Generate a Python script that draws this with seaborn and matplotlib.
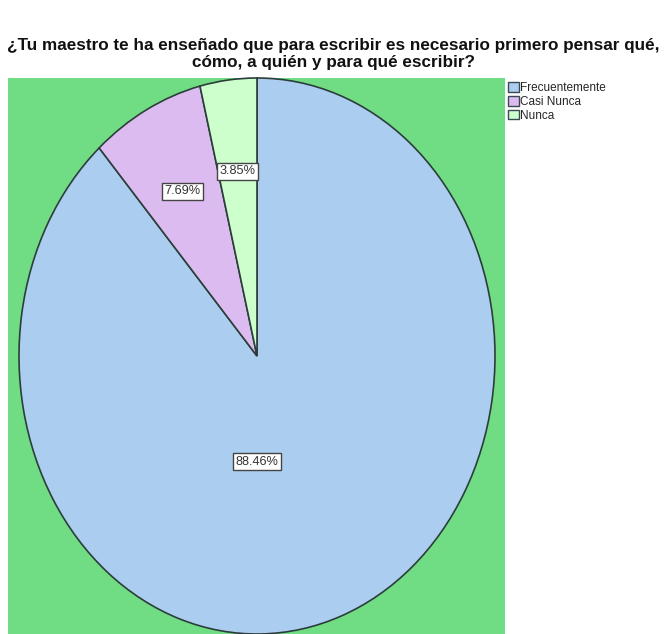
import matplotlib
matplotlib.use("Agg")
import matplotlib.pyplot as plt
import seaborn as sns
from matplotlib.patches import Patch

sns.set_style("white")
plt.rcParams["font.family"] = ["Liberation Sans", "DejaVu Sans"]

title = ("¿Tu maestro te ha enseñado que para escribir es necesario primero pensar qué,\n"
         "cómo, a quién y para qué escribir?")
categories = ["Frecuentemente", "Casi Nunca", "Nunca"]
percentages = [88.46, 7.69, 3.85]
colors = ["#ABCDEF", "#DCBCF0", "#CCFFCC"]
background = "#70DC84"
edge = "#2C3E3A"

W, H = 666, 634
fig = plt.figure(figsize=(W / 100, H / 100), dpi=100)
fig.patch.set_facecolor("white")

# plot area in pixels: x 8..505, y 78..634 (from top)
left, right, top, bottom = 8, 505, 78, 634
ax = fig.add_axes([left / W, 1 - bottom / H, (right - left) / W, (bottom - top) / H])

wedges, texts, autotexts = ax.pie(
    percentages, colors=colors, startangle=90, counterclock=False,
    autopct="%1.2f%%", pctdistance=0.67, frame=True,
    wedgeprops=dict(edgecolor=edge, linewidth=1.2),
    textprops=dict(fontsize=9.2, color="#333333"),
)
ax.set_facecolor(background)
ax.set_aspect("auto")
ax.set_xticks([])
ax.set_yticks([])

# ellipse: centre (257, 356) px, radii 238 x 278 px
cx, cy, rx, ry = 257, 356, 238, 278
ax.set_xlim(-(cx - left) / rx, (right - cx) / rx)
ax.set_ylim(-(bottom - cy) / ry, (cy - top) / ry)
for s in ax.spines.values():
    s.set_visible(False)

autotexts[0].set_position((0, -0.38))
for t in autotexts:
    t.set_bbox(dict(facecolor="white", edgecolor="#444444", linewidth=1.0,
                    boxstyle="square,pad=0.2"))

fig.text(0.5, 1 - 38 / H, title, ha="center", va="top", fontsize=12.3,
         fontweight="bold", linespacing=1.2, color="#111111")

handles = [Patch(facecolor=c, edgecolor="#3A4A55", linewidth=1.0, label=l)
           for c, l in zip(colors, categories)]
fig.legend(handles=handles, loc="upper left",
           bbox_to_anchor=(508 / W, 1 - 82 / H), frameon=False,
           fontsize=8.5, handlelength=0.9, handleheight=0.9,
           handletextpad=0.15, labelspacing=0.15, borderpad=0, borderaxespad=0)

fig.savefig("out.png", dpi=100)
